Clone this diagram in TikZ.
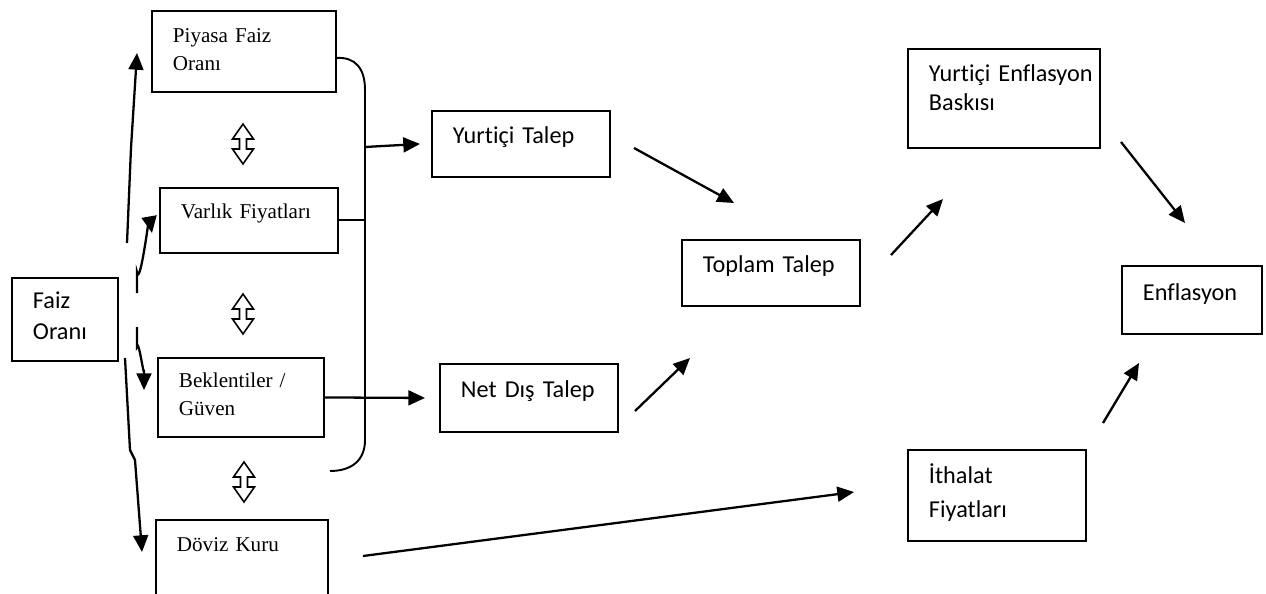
\documentclass[tikz,border=0pt]{standalone}
\usepackage{fontspec}
\setmainfont{Liberation Serif}
\newfontfamily\calibri{Carlito}[Ligatures=NoCommon]
\usetikzlibrary{arrows.meta}
\hyphenpenalty=10000

\tikzset{
  box/.style={draw, line width=1.1pt, anchor=north west, align=left, inner xsep=0.42cm, inner ysep=0pt},
  tms/.style={font=\fontsize{12}{15.5}\selectfont},
  cal/.style={font=\calibri\fontsize{13.8}{16}\selectfont},
  conn/.style={line width=1.1pt},
  arr/.style={line width=1.3pt, -{Triangle[length=9.5pt,width=8.5pt]}},
  updown/.pic={\draw[line width=0.9pt] (0,-20) -- (10.5,-5) -- (3.5,-5) -- (3.5,5) -- (10.5,5) -- (0,20) -- (-10.5,5) -- (-3.5,5) -- (-3.5,-5) -- (-10.5,-5) -- cycle;}
}

\begin{document}
\begin{tikzpicture}[x=0.02cm, y=-0.02cm]
\useasboundingbox (0,0) rectangle (1266,594);

% channels
\node[box, font=\calibri\fontsize{13.8}{17.6}\selectfont, text width=1.28cm, text height=0.62cm, text depth=1.04cm] (faiz) at (11,277) {Faiz\\Oranı};
\node[box, tms, text width=2.84cm, text height=0.64cm, text depth=0.98cm] (piyasa) at (151,10) {Piyasa Faiz\\Oranı};
\node[box, tms, text width=2.72cm, text height=0.62cm, text depth=0.68cm] (varlik) at (159,187) {\mbox{Varlık Fiyatları}};
\node[box, font=\fontsize{12}{15.9}\selectfont, text width=2.48cm, text height=0.60cm, text depth=0.98cm] (beklenti) at (157,357) {Beklentiler /\\Güven};
\node[box, tms, text width=2.60cm, text height=0.64cm, text depth=1.18cm] (doviz) at (155,519) {Döviz Kuru};

\pic (ud1) at (243,144) {updown};
\pic (ud2) at (243,314) {updown};
\pic (ud3) at (244,482) {updown};

% demand side
\node[box, cal, text width=2.72cm, text height=0.66cm, text depth=0.66cm] (yurtici) at (431,110) {\mbox{Yurtiçi Talep}};
\node[box, cal, text width=2.72cm, text height=0.68cm, text depth=0.68cm] (netdis) at (439,363) {\mbox{Net Dış Talep}};
\node[box, cal, text width=2.72cm, text height=0.66cm, text depth=0.66cm] (toplam) at (681,239) {\mbox{Toplam Talep}};

% prices
\node[box, cal, text width=3.00cm, text height=0.66cm, text depth=1.32cm] (baski) at (907,48) {\mbox{Yurtiçi Enflasyon}\\Baskısı};
\node[box, cal, text width=1.96cm, text height=0.70cm, text depth=0.66cm] (enflasyon) at (1121,265) {\mbox{Enflasyon}};
\node[box, font=\calibri\fontsize{13.8}{19.3}\selectfont, text width=2.72cm, text height=0.68cm, text depth=1.14cm] (ithalat) at (907,449) {İthalat\\Fiyatları};

% arrow ends
\coordinate (fa1) at (127,243);
\coordinate (fa2) at (137,293);
\coordinate (fa3) at (137,327);
\coordinate (fa4) at (125,358);
\coordinate (bus) at (365,147);
\coordinate (yt-o) at (634,148);
\coordinate (tt-i1) at (734,203);
\coordinate (nd-o) at (635,411);
\coordinate (tt-i2) at (690,358);
\coordinate (tt-o) at (891,255);
\coordinate (yb-i) at (943,199);
\coordinate (yb-o) at (1121,142);
\coordinate (en-i1) at (1185,223);
\coordinate (it-o) at (1103,423);
\coordinate (en-i2) at (1139,363);
\coordinate (dk-o) at (363,556);
\coordinate (it-i) at (854,492);

\draw[arr] (fa1) -- (131,148) -- (137,53);
\draw[arr] (fa2) -- (137,272) to[out=-80,in=100] (152,233);
\draw[arr] (fa3) -- (137,347) to[out=80,in=-90] (144,370) -- (144,390);
\draw[arr] (fa4) -- (130,450) -- (135,460) -- (142,552);

\draw[conn] ([yshift=-0.13cm]piyasa.east) .. controls (355,57) and (365,68) .. (365,90) -- (365,440) .. controls (365,460) and (352,471) .. (330,471);
\draw[conn] (varlik.east) -- (varlik.east -| bus);
\draw[arr] (bus) -- ([xshift=-0.22cm]yurtici.west);
\draw[arr] (beklenti.east) -- ([xshift=-0.28cm]netdis.west);

\draw[arr] (yt-o) -- (tt-i1);
\draw[arr] (nd-o) -- (tt-i2);
\draw[arr] (tt-o) -- (yb-i);
\draw[arr] (yb-o) -- (en-i1);
\draw[arr] (it-o) -- (en-i2);
\draw[arr] (dk-o) -- (it-i);
\end{tikzpicture}
\end{document}
